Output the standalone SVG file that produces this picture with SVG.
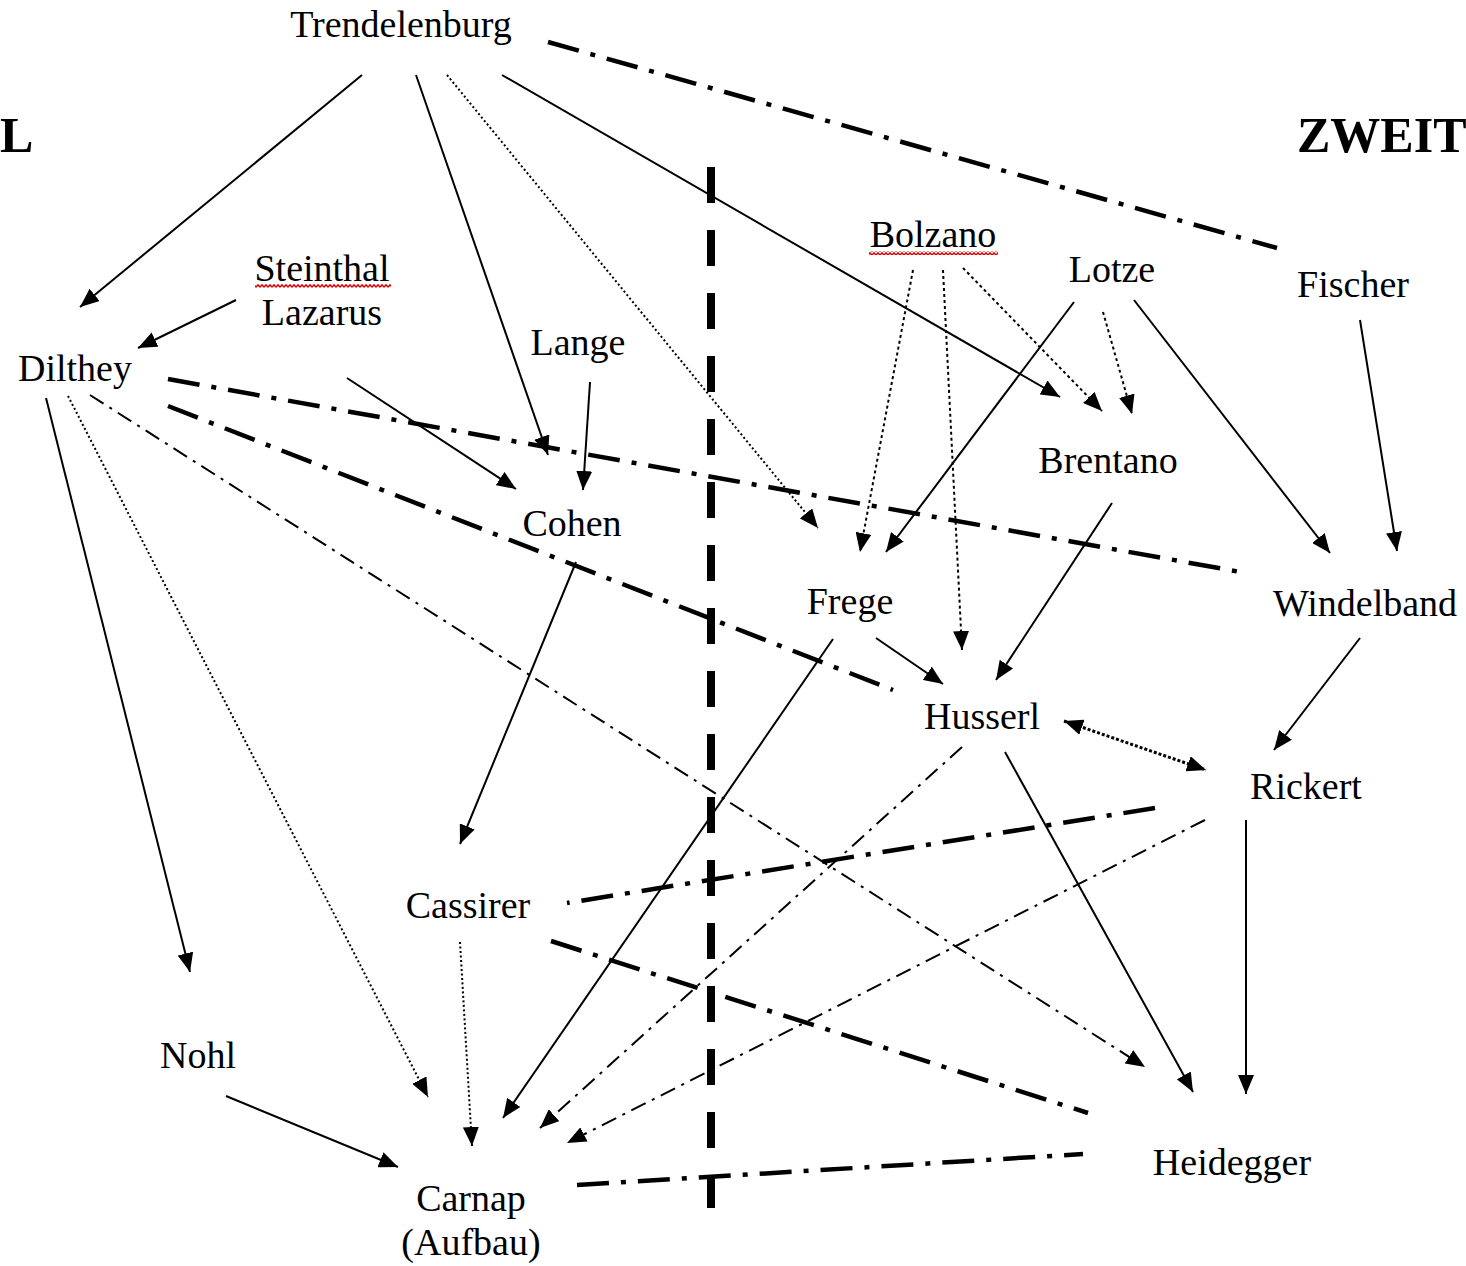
<svg xmlns="http://www.w3.org/2000/svg" width="1466" height="1266" viewBox="0 0 1466 1266">
<style>
text{font-family:"Liberation Serif","Times New Roman",serif;font-size:38px;fill:#000;text-anchor:middle}
.big{font-weight:bold;font-size:50px;text-anchor:start}
.c line{fill:none;stroke:#000}
.s{stroke-width:2}
.dot{stroke-width:2;stroke-dasharray:2 2.5}
.dot3{stroke-width:2;stroke-dasharray:3 3}
.dotb{stroke-width:3;stroke-dasharray:3 2}
.dd{stroke-width:2;stroke-dasharray:16 7 3 7}
.tdd{stroke-width:4.5;stroke-dasharray:32 12 5 12}
.div{stroke-width:8;stroke-dasharray:36 27}
.a{marker-end:url(#ah)}
</style>
<defs>
<marker id="ah" markerUnits="userSpaceOnUse" markerWidth="20" markerHeight="16" refX="19" refY="8" orient="auto"><path d="M0,0 L19,8 L0,16 z" fill="#000"/></marker>
<marker id="ahs" markerUnits="userSpaceOnUse" markerWidth="20" markerHeight="16" refX="19" refY="8" orient="auto-start-reverse"><path d="M0,0 L19,8 L0,16 z" fill="#000"/></marker>
<pattern id="wavy" patternUnits="userSpaceOnUse" width="4" height="4"><path d="M0,3.2 L2,0.8 L4,3.2" fill="none" stroke="#e00000" stroke-width="1.4"/></pattern>
</defs>
<rect width="1466" height="1266" fill="#fff"/>
<g id="headings">
<text class="big" x="0" y="152">L</text>
<text class="big" x="1297" y="152">ZWEIT</text>
</g>
<g id="divider" class="c"><line class="div" x1="711" y1="167" x2="711" y2="1208"/></g>
<g id="connectors" class="c">
<line class="s a" x1="362" y1="75" x2="80" y2="307"/>
<line class="s a" x1="416" y1="75" x2="548" y2="455"/>
<line class="dot a" x1="447" y1="75" x2="818" y2="528"/>
<line class="s a" x1="502" y1="75" x2="1060" y2="397"/>
<line class="tdd" x1="548" y1="42" x2="1277" y2="248"/>
<line class="s a" x1="236" y1="300" x2="138" y2="348"/>
<line class="s a" x1="347" y1="378" x2="516" y2="489"/>
<line class="s a" x1="590" y1="382" x2="583" y2="490"/>
<line class="tdd" x1="168" y1="379" x2="1246" y2="573"/>
<line class="tdd" x1="168" y1="406" x2="893" y2="690"/>
<line class="dd a" x1="90" y1="395" x2="1145" y2="1067"/>
<line class="dot a" x1="68" y1="396" x2="428" y2="1097"/>
<line class="s a" x1="46" y1="398" x2="190" y2="972"/>
<line class="s a" x1="576" y1="562" x2="460" y2="844"/>
<line class="dot3 a" x1="913" y1="270" x2="860" y2="552"/>
<line class="dot3 a" x1="943" y1="270" x2="962" y2="650"/>
<line class="dot3 a" x1="963" y1="268" x2="1102" y2="411"/>
<line class="dot3 a" x1="1103" y1="312" x2="1132" y2="414"/>
<line class="s a" x1="1074" y1="302" x2="886" y2="552"/>
<line class="s a" x1="1134" y1="300" x2="1330" y2="553"/>
<line class="s a" x1="1360" y1="320" x2="1397" y2="551"/>
<line class="s a" x1="1112" y1="503" x2="996" y2="680"/>
<line class="s a" x1="876" y1="638" x2="943" y2="684"/>
<line class="s a" x1="833" y1="639" x2="503" y2="1118"/>
<line class="s a" x1="1360" y1="638" x2="1274" y2="750"/>
<line class="dotb" x1="1064" y1="721" x2="1206" y2="770" marker-start="url(#ahs)" marker-end="url(#ahs)"/>
<line class="dd a" x1="962" y1="747" x2="540" y2="1128"/>
<line class="s a" x1="1005" y1="752" x2="1193" y2="1092"/>
<line class="s a" x1="1246" y1="820" x2="1246" y2="1094"/>
<line class="dd a" x1="1205" y1="820" x2="567" y2="1143"/>
<line class="tdd" x1="1155" y1="808" x2="567" y2="903"/>
<line class="tdd" x1="551" y1="941" x2="1088" y2="1113"/>
<line class="dot a" x1="460" y1="942" x2="472" y2="1146"/>
<line class="s a" x1="226" y1="1096" x2="398" y2="1167"/>
<line class="tdd" x1="577" y1="1185" x2="1083" y2="1154"/>
</g>
<g id="trendelenburg"><text x="401" y="37">Trendelenburg</text></g>
<g id="steinthal-lazarus"><text x="322" y="281">Steinthal</text><rect x="255" y="284" width="136" height="4" fill="url(#wavy)"/><text x="322" y="325">Lazarus</text></g>
<g id="dilthey"><text x="75" y="381">Dilthey</text></g>
<g id="lange"><text x="578" y="355">Lange</text></g>
<g id="cohen"><text x="572" y="536">Cohen</text></g>
<g id="bolzano"><text x="933" y="247">Bolzano</text><rect x="869" y="251" width="129" height="4" fill="url(#wavy)"/></g>
<g id="lotze"><text x="1112" y="282">Lotze</text></g>
<g id="fischer"><text x="1353" y="297">Fischer</text></g>
<g id="brentano"><text x="1108" y="473">Brentano</text></g>
<g id="frege"><text x="850" y="614">Frege</text></g>
<g id="windelband"><text x="1365" y="616">Windelband</text></g>
<g id="husserl"><text x="982" y="729">Husserl</text></g>
<g id="rickert"><text x="1306" y="799">Rickert</text></g>
<g id="cassirer"><text x="468" y="918">Cassirer</text></g>
<g id="nohl"><text x="198" y="1068">Nohl</text></g>
<g id="carnap"><text x="471" y="1211">Carnap</text><text x="471" y="1255">(Aufbau)</text></g>
<g id="heidegger"><text x="1232" y="1175">Heidegger</text></g>
</svg>
